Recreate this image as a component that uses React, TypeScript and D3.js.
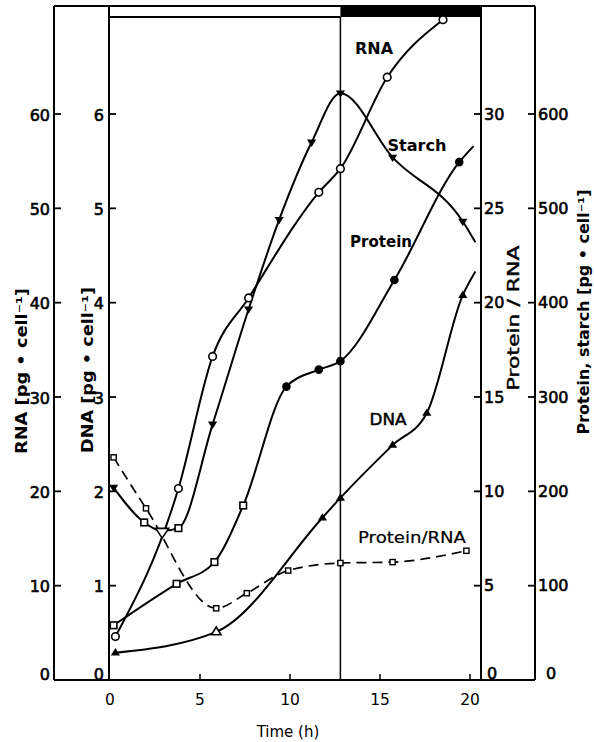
import React from 'react';
import * as d3 from 'd3';

// ---- axis ticks ----
const TIME_TICKS = [0, 5, 10, 15, 20];
const RNA_TICKS = [0, 10, 20, 30, 40, 50, 60];
const DNA_TICKS = [0, 1, 2, 3, 4, 5, 6];
const RATIO_TICKS = [0, 5, 10, 15, 20, 25, 30];
const MASS_TICKS = [0, 100, 200, 300, 400, 500, 600];

// start of the dark period (h)
const DARK_START = 12.8;

// ---- measured series: time (h) and value ----
// RNA, pg per cell
const rnaHours = [0.3, 3.8, 5.7, 7.7, 11.6, 12.8, 15.4, 18.5];
const rnaValues = [4.6, 20.3, 34.3, 40.5, 51.7, 54.2, 63.9, 70.0];

// starch, pg per cell (last vertex is the line end, unmarked)
const starchHours = [0.2, 1.9, 2.9, 3.8, 5.7, 7.7, 9.4, 11.2, 12.8, 15.7, 19.6, 20.3];
const starchValues = [204, 167, 158, 161, 271, 393, 488, 570, 622, 554, 486, 464];

// protein, pg per cell (last vertex is the line end, unmarked)
const proteinHours = [0.2, 3.7, 5.8, 7.4, 9.8, 11.6, 12.8, 15.8, 19.4, 20.2];
const proteinValues = [58, 102, 125, 185, 311, 329, 338, 424, 549, 566];

// DNA, pg per cell (last vertex is the line end, unmarked)
const dnaHours = [0.3, 5.9, 11.8, 12.8, 15.7, 17.6, 19.6, 20.3];
const dnaValues = [0.29, 0.51, 1.72, 1.93, 2.49, 2.83, 4.08, 4.33];

// protein / RNA ratio
const ratioHours = [0.2, 2.0, 5.9, 7.6, 9.9, 12.8, 15.7, 19.8];
const ratioValues = [11.8, 9.1, 3.8, 4.6, 5.8, 6.2, 6.25, 6.85];

// ---- layout ----
const W = 594;
const H = 742;
const Y0 = 680;
const Y_TOP = 6;
const BAR_BOTTOM = 17;
const AX_RNA = 54;
const AX_DNA = 109;
const AX_RATIO = 481;
const AX_MASS = 535;
const FONT = '"DejaVu Sans", "Liberation Sans", sans-serif';

const x = d3.scaleLinear().domain([0, 20]).range([110, 470]);
const yRna = d3.scaleLinear().domain([0, 60]).range([Y0, 114]);
const yDna = d3.scaleLinear().domain([0, 6]).range([Y0, 114]);
const yRatio = d3.scaleLinear().domain([0, 30]).range([Y0, 114]);
const yMass = d3.scaleLinear().domain([0, 600]).range([Y0, 114]);

type Pt = [number, number];
const zip = (hs: number[], vs: number[]): Pt[] => hs.map((h, i) => [h, vs[i]]);

const pathFor = (pts: Pt[], y: d3.ScaleLinear<number, number>) =>
  d3
    .line<Pt>()
    .x((d) => x(d[0]))
    .y((d) => y(d[1]))
    .curve(d3.curveMonotoneX)(pts) || '';

type MarkerKind = 'circle' | 'square' | 'smallSquare' | 'triDown' | 'triDownOpen' | 'triUp' | 'triUpOpen' | 'dot';

function Marker({ kind, cx, cy }: { kind: MarkerKind; cx: number; cy: number }) {
  const sw = 1.6;
  switch (kind) {
    case 'circle':
      return <circle cx={cx} cy={cy} r={3.8} fill="#fff" stroke="#000" strokeWidth={sw} />;
    case 'square':
      return <rect x={cx - 3.3} y={cy - 3.3} width={6.6} height={6.6} fill="#fff" stroke="#000" strokeWidth={sw} />;
    case 'smallSquare':
      return <rect x={cx - 2.6} y={cy - 2.6} width={5.2} height={5.2} fill="#fff" stroke="#000" strokeWidth={1.4} />;
    case 'dot':
      return <circle cx={cx} cy={cy} r={4.3} fill="#000" />;
    case 'triDown': {
      const s = 4.6;
      return <path d={`M${cx - s},${cy - s * 0.6}L${cx + s},${cy - s * 0.6}L${cx},${cy + s}Z`} fill="#000" />;
    }
    case 'triDownOpen': {
      const s = 6.5;
      return (
        <path
          d={`M${cx - s},${cy - s * 0.4}L${cx + s},${cy - s * 0.4}L${cx},${cy + s * 1.1}Z`}
          fill="#fff"
          stroke="#000"
          strokeWidth={sw}
        />
      );
    }
    case 'triUp': {
      const s = 4.6;
      return <path d={`M${cx - s},${cy + s * 0.6}L${cx + s},${cy + s * 0.6}L${cx},${cy - s}Z`} fill="#000" />;
    }
    case 'triUpOpen': {
      const s = 4.8;
      return (
        <path
          d={`M${cx - s},${cy + s * 0.6}L${cx + s},${cy + s * 0.6}L${cx},${cy - s}Z`}
          fill="#fff"
          stroke="#000"
          strokeWidth={sw}
        />
      );
    }
  }
  return null;
}

interface SeriesDef {
  pts: Pt[];
  y: d3.ScaleLinear<number, number>;
  dash?: string;
  width: number;
  lastUnmarked: boolean;
  marker: (i: number, h: number) => MarkerKind;
}

const series: SeriesDef[] = [
  {
    pts: zip(ratioHours, ratioValues),
    y: yRatio,
    dash: '10 6',
    width: 1.7,
    lastUnmarked: false,
    marker: () => 'smallSquare',
  },
  {
    pts: zip(dnaHours, dnaValues),
    y: yDna,
    width: 2,
    lastUnmarked: true,
    marker: (i) => (i === 1 ? 'triUpOpen' : 'triUp'),
  },
  {
    pts: zip(proteinHours, proteinValues),
    y: yMass,
    width: 2,
    lastUnmarked: true,
    marker: (i, h) => (h < 9 ? 'square' : 'dot'),
  },
  {
    pts: zip(starchHours, starchValues),
    y: yMass,
    width: 2,
    lastUnmarked: true,
    marker: (i, h) => (h > 2.5 && h < 3.5 ? 'triDownOpen' : h < 5 && i > 0 ? 'square' : 'triDown'),
  },
  {
    pts: zip(rnaHours, rnaValues),
    y: yRna,
    width: 2,
    lastUnmarked: false,
    marker: () => 'circle',
  },
];

function LeftTicks({ ticks, scale, axisX, labelX }: { ticks: number[]; scale: d3.ScaleLinear<number, number>; axisX: number; labelX: number }) {
  return (
    <g>
      {ticks.map((t) => (
        <g key={t}>
          {t !== 0 && <line x1={axisX - 1} x2={axisX + 7} y1={scale(t)} y2={scale(t)} stroke="#000" strokeWidth={1.8} />}
          <text
            x={labelX}
            y={scale(t) + (t === 0 ? -6 : 1)}
            dy="0.36em"
            textAnchor="end"
            fontSize={16}
            stroke="#000"
            strokeWidth={0.6}
          >
            {t}
          </text>
        </g>
      ))}
    </g>
  );
}

function RightTicks({ ticks, scale, axisX, labelX, zeroShift }: { ticks: number[]; scale: d3.ScaleLinear<number, number>; axisX: number; labelX: number; zeroShift: number }) {
  return (
    <g>
      {ticks.map((t) => (
        <g key={t}>
          {t !== 0 && <line x1={axisX - 7} x2={axisX + 1} y1={scale(t)} y2={scale(t)} stroke="#000" strokeWidth={1.8} />}
          <text
            x={labelX + (t === 0 ? zeroShift : 0)}
            y={scale(t) + (t === 0 ? -7 : 0)}
            dy="0.36em"
            textAnchor="start"
            fontSize={16}
            stroke="#000"
            strokeWidth={0.6}
          >
            {t}
          </text>
        </g>
      ))}
    </g>
  );
}

export default function App() {
  const xDark = x(DARK_START);
  return (
    <svg
      width={W}
      height={H}
      viewBox={`0 0 ${W} ${H}`}
      style={{ position: 'absolute', left: 0, top: 0, background: '#fff' }}
      fontFamily={FONT}
      fill="#000"
    >
      <rect x={0} y={0} width={W} height={H} fill="#fff" />

      {/* light / dark bar */}
      <rect x={xDark} y={Y_TOP} width={AX_RATIO - xDark} height={BAR_BOTTOM - Y_TOP} fill="#000" />
      <line x1={AX_DNA} x2={xDark} y1={BAR_BOTTOM} y2={BAR_BOTTOM} stroke="#000" strokeWidth={2} />

      {/* frame and axes */}
      <line x1={AX_RNA} x2={AX_MASS} y1={Y_TOP} y2={Y_TOP} stroke="#000" strokeWidth={2} />
      <line x1={AX_RNA} x2={AX_MASS} y1={Y0} y2={Y0} stroke="#000" strokeWidth={2} />
      {[AX_RNA, AX_DNA, AX_RATIO, AX_MASS].map((ax) => (
        <line key={ax} x1={ax} x2={ax} y1={Y_TOP} y2={Y0} stroke="#000" strokeWidth={2} />
      ))}
      <line x1={xDark} x2={xDark} y1={BAR_BOTTOM} y2={Y0} stroke="#000" strokeWidth={1.5} />

      {/* time axis */}
      {TIME_TICKS.map((t) => (
        <g key={t}>
          {t !== 0 && <line x1={x(t)} x2={x(t)} y1={Y0} y2={Y0 - 6} stroke="#000" strokeWidth={1.5} />}
          <text x={x(t)} y={705} textAnchor="middle" fontSize={15.5}>
            {t}
          </text>
        </g>
      ))}
      <text x={288} y={737} textAnchor="middle" fontSize={15}>
        Time (h)
      </text>

      <LeftTicks ticks={RNA_TICKS} scale={yRna} axisX={AX_RNA} labelX={50} />
      <LeftTicks ticks={DNA_TICKS} scale={yDna} axisX={AX_DNA} labelX={104} />
      <RightTicks ticks={RATIO_TICKS} scale={yRatio} axisX={AX_RATIO} labelX={484} zeroShift={3} />
      <RightTicks ticks={MASS_TICKS} scale={yMass} axisX={AX_MASS} labelX={538} zeroShift={8} />

      {/* axis titles */}
      <text
        transform="translate(27,371) rotate(-90)"
        textAnchor="middle"
        fontSize={16}
        fontWeight="bold"
        textLength={166}
        lengthAdjust="spacingAndGlyphs"
      >
        RNA [pg • cell⁻¹]
      </text>
      <text
        transform="translate(93,370) rotate(-90)"
        textAnchor="middle"
        fontSize={16}
        fontWeight="bold"
        textLength={166}
        lengthAdjust="spacingAndGlyphs"
      >
        DNA [pg • cell⁻¹]
      </text>
      <text
        transform="translate(519,318) rotate(-90)"
        textAnchor="middle"
        fontSize={15}
        textLength={145}
        lengthAdjust="spacingAndGlyphs"
        stroke="#000"
        strokeWidth={0.4}
      >
        Protein / RNA
      </text>
      <text
        transform="translate(589,312) rotate(-90)"
        textAnchor="middle"
        fontSize={15}
        fontWeight="bold"
        textLength={245}
        lengthAdjust="spacingAndGlyphs"
      >
        Protein, starch [pg • cell⁻¹]
      </text>

      {/* curves */}
      {series.map((s, k) => (
        <path
          key={k}
          d={pathFor(s.pts, s.y)}
          fill="none"
          stroke="#000"
          strokeWidth={s.width}
          strokeDasharray={s.dash}
          strokeLinejoin="round"
        />
      ))}
      {series.map((s, k) =>
        s.pts.map((p, i) =>
          s.lastUnmarked && i === s.pts.length - 1 ? null : (
            <Marker key={`${k}-${i}`} kind={s.marker(i, p[0])} cx={x(p[0])} cy={s.y(p[1])} />
          )
        )
      )}

      {/* curve labels */}
      <text x={374} y={54} textAnchor="middle" fontSize={16} fontWeight="bold" textLength={38} lengthAdjust="spacingAndGlyphs">
        RNA
      </text>
      <text x={417} y={151} textAnchor="middle" fontSize={16} fontWeight="bold" textLength={59} lengthAdjust="spacingAndGlyphs">
        Starch
      </text>
      <text x={381} y={247} textAnchor="middle" fontSize={16} fontWeight="bold" textLength={62} lengthAdjust="spacingAndGlyphs">
        Protein
      </text>
      <text x={388} y={425} textAnchor="middle" fontSize={16} textLength={37} lengthAdjust="spacingAndGlyphs" stroke="#000" strokeWidth={0.5}>
        DNA
      </text>
      <text x={412} y={543} textAnchor="middle" fontSize={16} textLength={108} lengthAdjust="spacingAndGlyphs" stroke="#000" strokeWidth={0.2}>
        Protein/RNA
      </text>
    </svg>
  );
}
